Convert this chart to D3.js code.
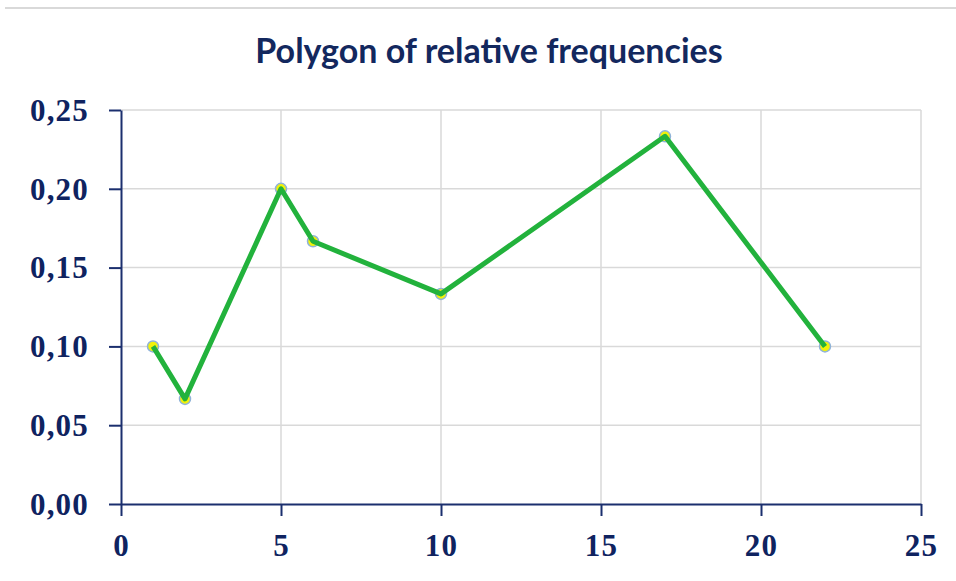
<!DOCTYPE html>
<html>
<head>
<meta charset="utf-8">
<script src="https://cdn.jsdelivr.net/npm/d3@7"></script>
<style>
  body { margin: 0; background: #fff; overflow: hidden; }
  svg { display: block; }
</style>
</head>
<body>
<div id="chart"></div>
<script>
// values (n = 30): relative frequencies
const xValues = [1, 2, 5, 6, 10, 17, 22];
const relFreq = [0.1, 0.0667, 0.2, 0.1667, 0.1333, 0.2333, 0.1];
const xTicks = [0, 5, 10, 15, 20, 25];
const yTicks = [0, 0.05, 0.10, 0.15, 0.20, 0.25];
const title = 'Polygon of relative frequencies';

const width = 956, height = 581;
const margin = {top: 110, right: 35, bottom: 77, left: 121};
const innerWidth = width - margin.left - margin.right;
const innerHeight = height - margin.top - margin.bottom;
const navy = '#1b2f6e';

const svg = d3.select('#chart').append('svg')
  .attr('width', width)
  .attr('height', height);

// thin rule at the top
svg.append('line')
  .attr('x1', 5).attr('x2', width)
  .attr('y1', 8).attr('y2', 8)
  .attr('stroke', '#d9d9d9').attr('stroke-width', 2);

svg.append('text')
  .attr('x', 489).attr('y', 63)
  .attr('text-anchor', 'middle')
  .attr('font-family', 'Lato, sans-serif')
  .attr('font-weight', 'bold')
  .attr('font-size', 34)
  .attr('fill', '#13285e')
  .text(title);

const g = svg.append('g')
  .attr('transform', `translate(${margin.left},${margin.top})`);

const x = d3.scaleLinear().domain([0, 25]).range([0, innerWidth]);
const y = d3.scaleLinear().domain([0, 0.25]).range([innerHeight, 0]);

// grid
g.append('g').selectAll('line')
  .data(xTicks.slice(1))
  .join('line')
  .attr('x1', d => x(d)).attr('x2', d => x(d))
  .attr('y1', 0).attr('y2', innerHeight)
  .attr('stroke', '#d9d9d9').attr('stroke-width', 1.5);
g.append('g').selectAll('line')
  .data(yTicks.slice(1))
  .join('line')
  .attr('x1', 0).attr('x2', innerWidth)
  .attr('y1', d => y(d)).attr('y2', d => y(d))
  .attr('stroke', '#d9d9d9').attr('stroke-width', 1.5);

// axes
const fmt = d3.format('.2f');
const yAxis = g.append('g')
  .call(d3.axisLeft(y).tickValues(yTicks).tickSize(12).tickSizeOuter(0).tickPadding(20)
    .tickFormat(d => fmt(d).replace('.', ',')));
const xAxis = g.append('g')
  .attr('transform', `translate(0,${innerHeight})`)
  .call(d3.axisBottom(x).tickValues(xTicks).tickSize(12).tickSizeOuter(0).tickPadding(18));

[yAxis, xAxis].forEach(ax => {
  ax.select('.domain').attr('stroke', navy).attr('stroke-width', 2);
  ax.selectAll('.tick line').attr('stroke', navy).attr('stroke-width', 2);
  ax.selectAll('text')
    .attr('font-family', '"Liberation Serif", serif')
    .attr('font-weight', 'bold')
    .attr('font-size', 31)
    .attr('letter-spacing', 1.2)
    .attr('fill', '#0f2360');
});
yAxis.selectAll('text').attr('dy', '0.33em');
xAxis.selectAll('text').attr('dy', '0.7em');

const pts = xValues.map((v, i) => ({x: v, y: relFreq[i]}));

// markers (under the line)
g.append('g').selectAll('circle')
  .data(pts)
  .join('circle')
  .attr('cx', d => x(d.x))
  .attr('cy', d => y(d.y))
  .attr('r', 5.5)
  .attr('fill', '#f2f20a')
  .attr('stroke', '#8fb3d9')
  .attr('stroke-width', 1.5);

g.append('path')
  .datum(pts)
  .attr('fill', 'none')
  .attr('stroke', '#22b23c')
  .attr('stroke-width', 5)
  .attr('stroke-linejoin', 'round')
  .attr('d', d3.line().x(d => x(d.x)).y(d => y(d.y)));
</script>
</body>
</html>
